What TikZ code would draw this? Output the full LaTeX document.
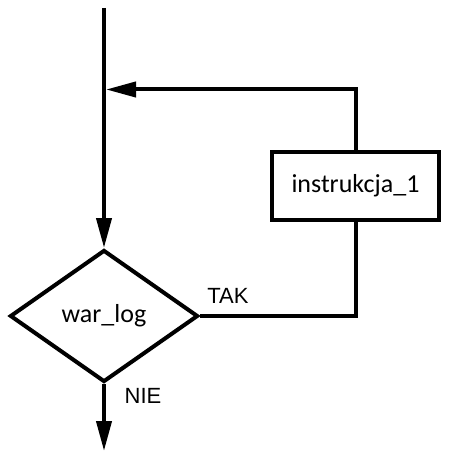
\documentclass[tikz,border=0pt]{standalone}
\usepackage{fontspec}
\setmainfont{Liberation Sans}
\newfontfamily\boxfont{Carlito}
\usetikzlibrary{arrows.meta,shapes.geometric,positioning}
\tikzset{
  flowline/.style={line width=4pt},
  flowarrow/.style={flowline,-{Triangle[length=30pt,width=15pt]}},
  decision/.style={diamond,draw,line width=4pt,inner sep=0pt,
    minimum width=188pt,minimum height=132pt,
    font=\boxfont\fontsize{26}{30}\selectfont},
  instrbox/.style={rectangle,draw,line width=4pt,inner sep=0pt,
    minimum width=167pt,minimum height=67pt,
    font=\boxfont\fontsize{26}{30}\selectfont},
  flowlabel/.style={inner sep=0pt,font=\fontsize{22}{26}\selectfont}
}

\begin{document}
\begin{tikzpicture}[x=1pt,y=-1pt]
  \useasboundingbox (0,0) rectangle (452,454);
  \coordinate (start) at (104,8);
  \coordinate (loopin) at (106,89.5);
  \coordinate (stop) at (104,451);
  \node[decision] (cond) at (104,316) {war\_log};
  \node[instrbox] (instr) at (355.5,186) {instrukcja\_1};
  \node[flowlabel] (yes) at (228,296) {TAK};
  \node[flowlabel] (no) at (143,396) {NIE};
  % flow
  \draw[flowarrow] (start) -- (cond.north);
  \draw[flowline] (cond.east) -| (instr.south);
  \draw[flowarrow] (instr.north) |- (loopin);
  \draw[flowarrow] (cond.south) -- (stop);
\end{tikzpicture}
\end{document}
